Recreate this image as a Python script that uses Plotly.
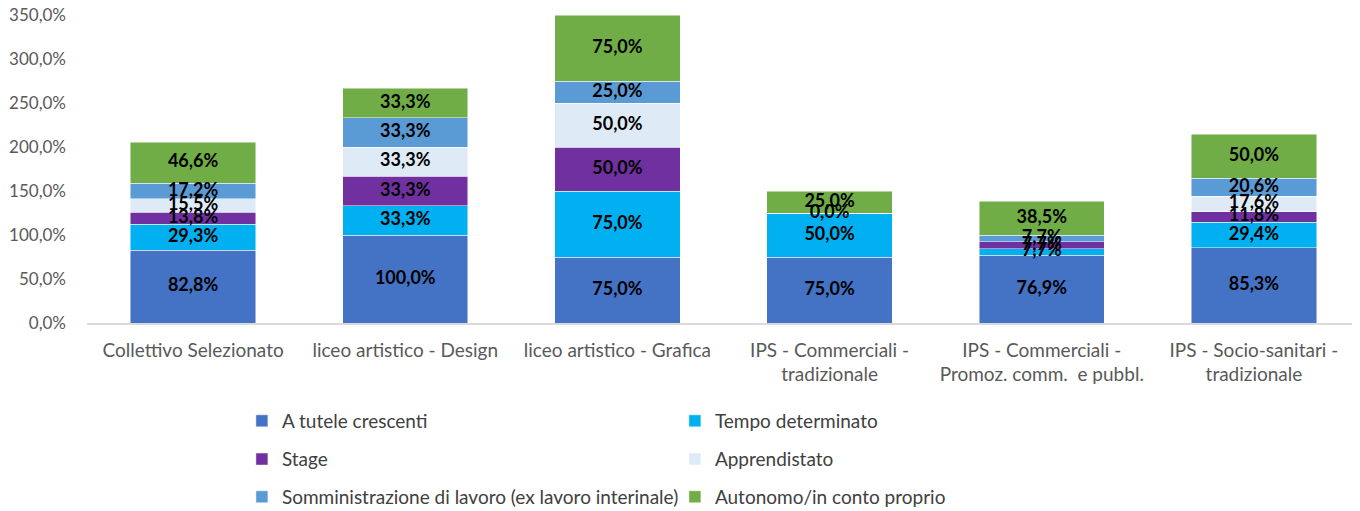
import plotly.graph_objects as go

categories = [
    "Collettivo Selezionato",
    "liceo artistico - Design",
    "liceo artistico - Grafica",
    "IPS - Commerciali -<br>tradizionale",
    "IPS - Commerciali -<br>Promoz. comm.  e pubbl.",
    "IPS - Socio-sanitari -<br>tradizionale",
]

series_names = [
    "A tutele crescenti",
    "Tempo determinato",
    "Stage",
    "Apprendistato",
    "Somministrazione di lavoro (ex lavoro interinale)",
    "Autonomo/in conto proprio",
]

a_tutele = [82.8, 100.0, 75.0, 75.0, 76.9, 85.3]
tempo_det = [29.3, 33.3, 75.0, 50.0, 7.7, 29.4]
stage = [13.8, 33.3, 50.0, 0.0, 7.7, 11.8]
apprendistato = [15.5, 33.3, 50.0, 0.0, 0.0, 17.6]
somministrazione = [17.2, 33.3, 25.0, 0.0, 7.7, 20.6]
autonomo = [46.6, 33.3, 75.0, 25.0, 38.5, 50.0]

# label visibility per category (rows) and series (columns)
show_label = [
    [True] * 6,
    [True] * 6,
    [True] * 6,
    [True, True, True, False, False, True],
    [True, True, True, False, True, True],
    [True] * 6,
]

colors = ["#4472C4", "#00B0F0", "#7030A0", "#DEEBF7", "#5B9BD5", "#70AD47"]

ytick_vals = [0, 50, 100, 150, 200, 250, 300, 350]
ytick_text = ["0,0%", "50,0%", "100,0%", "150,0%", "200,0%", "250,0%", "300,0%", "350,0%"]

all_series = [a_tutele, tempo_det, stage, apprendistato, somministrazione, autonomo]
legend_ids = ["legend", "legend", "legend2", "legend2", "legend3", "legend3"]

FONT = "Lato"

def fmt(v):
    return f"{v:.1f}".replace(".", ",") + "%"

fig = go.Figure()
for i, (name, vals, col) in enumerate(zip(series_names, all_series, colors)):
    fig.add_trace(go.Bar(
        name=name,
        x=categories,
        y=vals,
        marker=dict(color=col, line=dict(color="rgba(255,255,255,0.6)", width=0.8)),
        legend=legend_ids[i],
        hoverinfo="skip",
    ))

# data labels at the middle of each stacked segment
base = [0.0] * len(categories)
for i, vals in enumerate(all_series):
    mids, texts = [], []
    for j, v in enumerate(vals):
        mids.append(base[j] + v / 2)
        texts.append(fmt(v) if show_label[j][i] else "")
        base[j] += v
    fig.add_trace(go.Scatter(
        x=categories, y=mids, mode="text", text=texts,
        textposition="middle center",
        textfont=dict(family=FONT, size=18, color="black", weight="bold"),
        showlegend=False, hoverinfo="skip", cliponaxis=False,
    ))

leg_common = dict(
    orientation="h",
    entrywidth=388,
    font=dict(family=FONT, size=19, color="#404040"),
    bgcolor="rgba(0,0,0,0)",
    xanchor="left",
    yanchor="middle",
    xref="container",
    yref="container",
    itemwidth=30,
    traceorder="normal",
)

# the page body adds an 8px offset, so the figure is 8px smaller than the window
fig.update_layout(
    barmode="stack",
    bargap=0.41,
    width=1352,
    height=503,
    margin=dict(l=79, r=0, t=7, b=188),
    plot_bgcolor="white",
    paper_bgcolor="white",
    font=dict(family=FONT, size=17, color="#595959"),
    showlegend=True,
    legend=dict(**leg_common, x=0.173, y=0.179),
    legend2=dict(**leg_common, x=0.173, y=0.103),
    legend3=dict(**leg_common, x=0.173, y=0.028),
    xaxis=dict(
        showline=True, linecolor="#d9d9d9", linewidth=1.5,
        tickfont=dict(family=FONT, size=19, color="#595959"),
        ticks="", showgrid=False, automargin=False,
        ticklabelstandoff=9,
    ),
    yaxis=dict(
        range=[0, 350],
        tickvals=ytick_vals,
        ticktext=ytick_text,
        tickfont=dict(family=FONT, size=17, color="#595959"),
        showgrid=False,
        zeroline=False,
        ticks="",
        ticklabelstandoff=20,
        ticklabeloverflow="allow",
        automargin=False,
    ),
)

fig.write_html("out.html")
